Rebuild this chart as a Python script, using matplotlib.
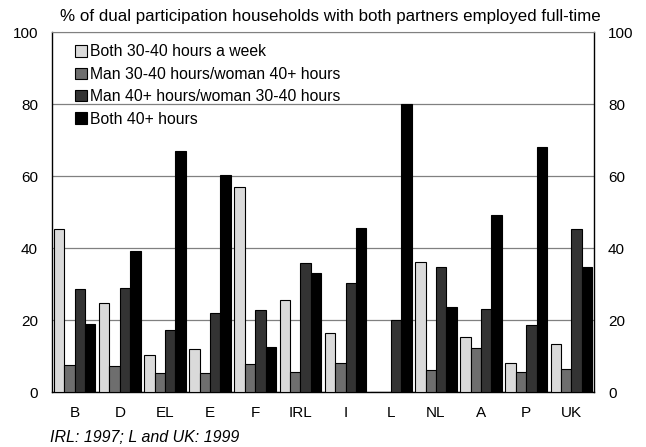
import numpy as np
import matplotlib.pyplot as plt

plt.rcParams['font.family'] = ['Liberation Sans', 'DejaVu Sans']

countries = ["B", "D", "EL", "E", "F", "IRL", "I", "L", "NL", "A", "P", "UK"]
both_30_40 = [45.3, 24.7, 10.2, 12.0, 57.1, 25.6, 16.4, 0, 36.1, 15.3, 8.2, 13.4]
man30_woman40 = [7.4, 7.1, 5.4, 5.4, 7.7, 5.5, 8.2, 0, 6.0, 12.2, 5.7, 6.5]
man40_woman30 = [28.7, 29.0, 17.1, 21.9, 22.9, 35.8, 30.2, 20.1, 34.7, 23.1, 18.5, 45.3]
both_40 = [19.0, 39.1, 67.1, 60.3, 12.5, 33.0, 45.5, 80.0, 23.6, 49.3, 68.2, 34.7]

labels = ["Both 30-40 hours a week", "Man 30-40 hours/woman 40+ hours",
          "Man 40+ hours/woman 30-40 hours", "Both 40+ hours"]
colors = ["#dadada", "#6e6e6e", "#333333", "#000000"]
series = [both_30_40, man30_woman40, man40_woman30, both_40]

fig = plt.figure(figsize=(6.46, 4.47), dpi=100)
ax = fig.add_axes([0.0805, 0.123, 0.839, 0.805])

x = np.arange(len(countries))
w = 0.23
for i, vals in enumerate(series):
    ax.bar(x + (i - 1.5) * w, vals, w, color=colors[i], edgecolor="black",
           linewidth=0.8, label=labels[i], zorder=3)

ax.set_xlim(-0.5, len(countries) - 0.5)
ax.set_ylim(0, 100)
ax.set_yticks(range(0, 101, 20))
ax.yaxis.grid(True, color="#808080", linewidth=0.9, zorder=0)
ax.tick_params(axis="y", length=0, labelsize=11, pad=10, right=True, labelright=True)
ax.tick_params(axis="x", length=0, labelsize=11, pad=10)
ax.set_xticks(x)
ax.set_xticklabels(countries)
for s in ["left", "right", "bottom"]:
    ax.spines[s].set_color("black")
    ax.spines[s].set_linewidth(1.0)
ax.spines["top"].set_color("#808080")

ax.legend(loc="upper left", frameon=False, fontsize=11.3, handlelength=0.75,
          handleheight=0.75, handletextpad=0.25, labelspacing=0.47,
          bbox_to_anchor=(0.042, 0.966), borderaxespad=0, borderpad=0)

fig.text(0.093, 0.962, "% of dual participation households with both partners employed full-time",
         fontsize=12.2, va="center")
fig.text(0.077, 0.022, "IRL: 1997; L and UK: 1999", fontsize=11.5, style="italic", va="center")

fig.savefig("out.png", dpi=100)
